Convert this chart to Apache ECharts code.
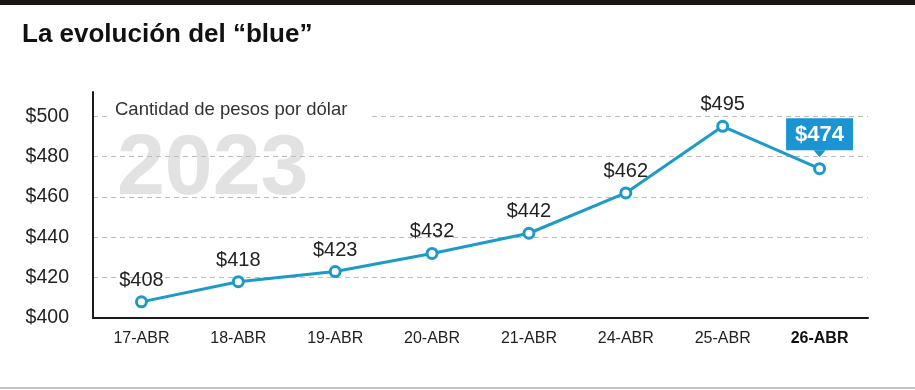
<!DOCTYPE html>
<html>
<head>
<meta charset="utf-8">
<script src="https://cdn.jsdelivr.net/npm/echarts@6/dist/echarts.min.js"></script>
<style>
html,body{margin:0;padding:0;background:#fff;}
#c{width:915px;height:390px;}
</style>
</head>
<body>
<div id="c"></div>
<script>
var categories = ['17-ABR','18-ABR','19-ABR','20-ABR','21-ABR','24-ABR','25-ABR','26-ABR'];
var values = [408, 418, 423, 432, 442, 462, 495, 474];
var yMin = 400, yMax = 512, yStep = 20;

var chart = echarts.init(document.getElementById('c'));
var lastIdx = values.length - 1;
var seriesData = values.map(function (v, i) {
  if (i === lastIdx) {
    return {
      value: v,
      label: {
        backgroundColor: '#1a94d2',
        color: '#fff',
        fontWeight: 'bold',
        fontSize: 22,
        padding: [6, 9, 4, 9],
        distance: 12
      }
    };
  }
  return v;
});

chart.setOption({
  animation: false,
  backgroundColor: '#fff',
  grid: {left: 93, right: 47, top: 92, bottom: 72},
  graphic: [
    {type: 'rect', left: 0, top: 0, z: 1, shape: {width: 915, height: 5}, style: {fill: '#1a1612'}},
    {type: 'rect', left: 0, top: 387, z: 1, shape: {width: 915, height: 2}, style: {fill: '#c4c4c4'}},
    {type: 'text', left: 22, top: 22, z: 10, style: {text: 'La evolución del “blue”', font: 'bold 26px "Liberation Sans", Arial, sans-serif', fill: '#111'}},
    {type: 'text', left: 117, top: 127, z: -10, style: {text: '2023', font: 'bold 86px "Liberation Sans", Arial, sans-serif', fill: '#e2e2e2'}},
    {type: 'text', left: 111, top: 98, z: 100, style: {text: 'Cantidad de pesos por dólar', font: '18.5px "Liberation Sans", Arial, sans-serif', fill: '#333', backgroundColor: '#fff', padding: [2, 24, 2, 4]}}
  ],
  xAxis: {
    type: 'category',
    data: categories,
    boundaryGap: true,
    axisLine: {lineStyle: {color: '#1a1a1a', width: 2}},
    axisTick: {inside: true, length: 6, lineStyle: {color: '#1a1a1a', width: 1.5}},
    axisLabel: {
      interval: 0,
      color: '#222',
      fontSize: 16,
      fontFamily: '"Liberation Sans Narrow", "Liberation Sans", Arial, sans-serif',
      margin: 13,
      formatter: function (v) { return v === categories[lastIdx] ? '{b|' + v + '}' : v; },
      rich: {b: {fontWeight: 'bold', fontSize: 16, color: '#111', fontFamily: '"Liberation Sans Narrow", "Liberation Sans", Arial, sans-serif'}}
    }
  },
  yAxis: {
    type: 'value',
    min: yMin,
    max: yMax,
    interval: yStep,
    axisLine: {show: true, lineStyle: {color: '#1a1a1a', width: 2}},
    axisTick: {show: false},
    axisLabel: {
      color: '#222',
      fontSize: 19.5,
      fontFamily: '"Liberation Sans", Arial, sans-serif',
      margin: 24,
      padding: [0, 0, 9, 0],
      showMaxLabel: false,
      formatter: function (v) { return v % yStep === 0 ? '$' + v : ''; }
    },
    splitLine: {show: true, showMinLine: false, showMaxLine: false, lineStyle: {color: '#bdbdbd', type: [5, 4], width: 1}}
  },
  series: [{
    type: 'line',
    data: seriesData,
    z: 5,
    symbol: 'circle',
    symbolSize: 10,
    itemStyle: {color: '#fff', borderColor: '#1e9ac8', borderWidth: 3},
    lineStyle: {color: '#1e9ac8', width: 3},
    label: {
      show: true,
      position: 'top',
      distance: 5,
      fontSize: 20,
      color: '#222',
      fontFamily: '"Liberation Sans", Arial, sans-serif',
      formatter: function (p) { return '$' + p.value; }
    },
    markPoint: {
      silent: true,
      symbol: 'triangle',
      symbolRotate: 180,
      symbolSize: [12, 7],
      symbolOffset: [0, -15],
      label: {show: false},
      itemStyle: {color: '#1a94d2'},
      data: [{coord: [categories[lastIdx], values[lastIdx]]}]
    }
  }]
});
</script>
</body>
</html>
